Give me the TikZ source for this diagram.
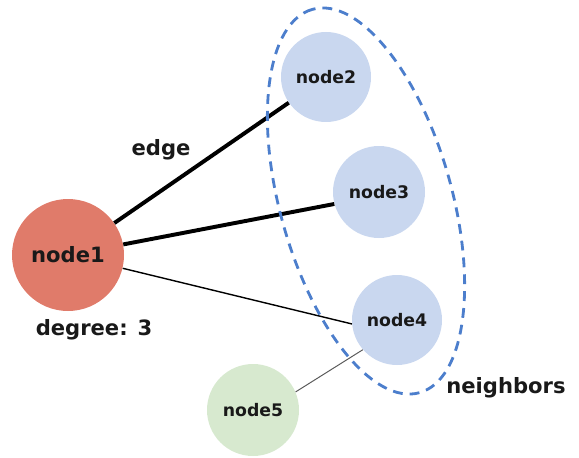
\documentclass[tikz,border=0pt]{standalone}
\usepackage{fontspec}
\setmainfont{DejaVu Sans}
\usepackage{tikz}
\usepackage{xcolor}
\definecolor{hubred}{RGB}{224,123,106}
\definecolor{nbrblue}{RGB}{201,215,239}
\definecolor{farGreen}{RGB}{215,233,207}
\definecolor{ringblue}{RGB}{76,126,204}
\tikzset{
  vtx/.style={circle, inner sep=0pt, text=black!90, font=\bfseries\fontsize{12.3}{14}\selectfont},
  lbl/.style={text=black!90, font=\bfseries\fontsize{15}{18}\selectfont}
}

\begin{document}
\begin{tikzpicture}
    \useasboundingbox (0,0) rectangle (14.475,11.425);
    % nodes
    \node[vtx, fill=hubred, minimum size=2.8cm, font=\bfseries\fontsize{15}{18}\selectfont] (node1) at (1.7,5.05) {node1};
    \node[vtx, fill=nbrblue, minimum size=2.25cm] (node2) at (8.15,9.5) {node2};
    \node[vtx, fill=nbrblue, minimum size=2.3cm] (node3) at (9.475,6.625) {node3};
    \node[vtx, fill=nbrblue, minimum size=2.25cm] (node4) at (9.925,3.425) {node4};
    \node[vtx, fill=farGreen, minimum size=2.3cm] (node5) at (6.325,1.175) {node5};
    % edges
    \draw[line width=2.8pt] (node1) -- (node2);
    \draw[line width=2.8pt] (node1) -- (node3.195);
    \draw[line width=1pt] (node1) -- (node4.185);
    \draw[line width=0.7pt, black!65] (node5.23) -- (node4.221);
    % neighborhood ring, on top of the nodes
    \draw[ringblue, line width=2pt, dash pattern=on 7pt off 5pt, rotate around={105.6:(9.15,6.4)}]
        (9.15,6.4) ellipse (4.975 and 2.15);
    % labels
    \node[lbl] (edgeLbl) at (4.025,7.675) {edge};
    \node[lbl] (degLbl) at (2.35,3.175) {degree: 3};
    \node[lbl] (nbrLbl) at (12.65,1.725) {neighbors};
\end{tikzpicture}
\end{document}
